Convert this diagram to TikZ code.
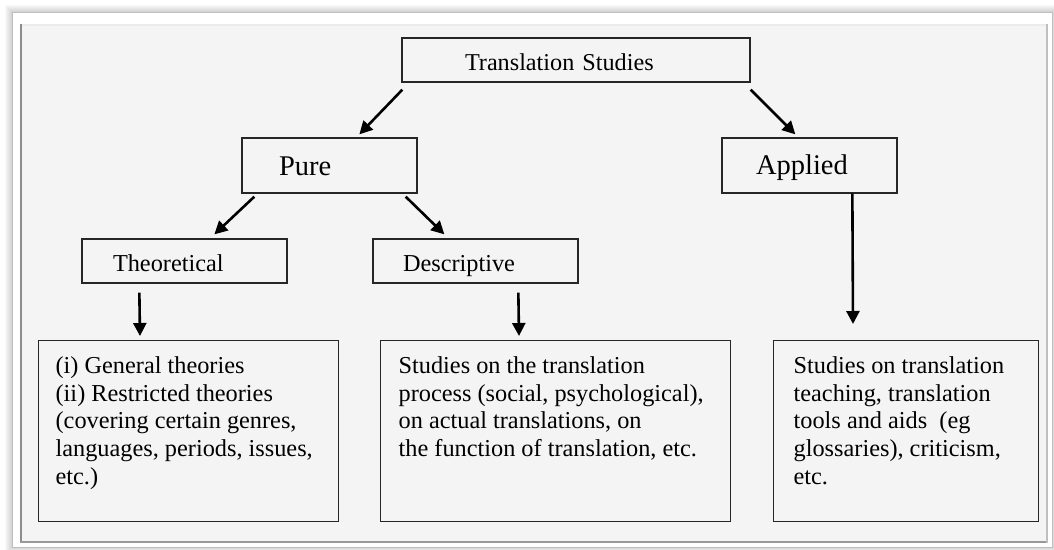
\documentclass[tikz,border=0pt]{standalone}
\usepackage{fontspec}
\setmainfont{Liberation Serif}
\usetikzlibrary{arrows.meta}
\definecolor{panel}{HTML}{F4F4F4}
\tikzset{
  box/.style={draw=black!85, line width=1.3pt, fill=panel},
  arr/.style={line width=2.6pt, -{Triangle[length=13pt,width=13pt]}},
  toptext/.style={font=\fontsize{24.2pt}{28pt}\selectfont},
  midtext/.style={font=\fontsize{28.5pt}{32pt}\selectfont},
  subtext/.style={font=\fontsize{24.3pt}{28pt}\selectfont},
  bodytext/.style={font=\fontsize{24.3pt}{27.7pt}\selectfont}
}
\begin{document}
\begin{tikzpicture}[x=1pt,y=-1pt]
\useasboundingbox (0,0) rectangle (1054,549);
\fill[white] (0,0) rectangle (1054,549);
% soft shadow around the frame
\foreach \d in {1,2,...,7}{
  \fill[black, opacity=0.025] (12-\d,12-\d) rectangle (1052+\d,547+\d);
}
\fill[white] (12,12) rectangle (1052,547);
\draw[black!25, line width=0.6pt] (12,12) rectangle (1052,547);
% panel
\fill[panel] (20,24) rectangle (1048,543);
\draw[black!45, line width=2pt] (21,24) -- (21,543);
\draw[black!40, line width=2pt] (20,542) -- (1048,542);
\draw[black!25, line width=1.5pt] (1047,24) -- (1047,543);
\draw[black!8, line width=2pt] (22,25) -- (1046,25);

% upper boxes
\node[box, toptext, minimum width=348pt, minimum height=44pt, inner xsep=63pt, inner ysep=0pt, text width=222pt, align=left, text height=26.4pt, text depth=5pt] (ts) at (576,60) {Translation Studies};
\node[box, midtext, minimum height=55pt, inner xsep=37pt, inner ysep=0pt, text width=101pt, align=left, text height=24pt, text depth=5pt] (pu) at (329.5,165.5) {Pure};
\node[box, midtext, minimum height=55pt, inner xsep=34pt, inner ysep=0pt, text width=107pt, align=left, text height=22pt, text depth=5pt] (ap) at (809.5,165.5) {Applied};
\node[box, subtext, minimum height=44pt, inner xsep=31pt, inner ysep=0pt, text width=143pt, align=left, text height=26.2pt, text depth=5pt] (th) at (184.5,261) {Theoretical};
\node[box, subtext, minimum height=44pt, inner xsep=30pt, inner ysep=0pt, text width=145pt, align=left, text height=26.2pt, text depth=5pt] (de) at (475.5,261) {Descriptive};

% lower boxes
\node[box, bodytext, anchor=north west, inner xsep=17pt, inner ysep=16pt] (lb) at (38,340)
  {\parbox[c][149pt][t]{266pt}{\raggedright (i) General theories\\(ii) Restricted theories\\(covering certain genres,\\languages, periods, issues,\\etc.)}};
\node[box, bodytext, anchor=north west, inner xsep=18pt, inner ysep=16pt] (mb) at (380,340)
  {\parbox[c][149pt][t]{314pt}{\raggedright Studies on the translation\\process (social, psychological),\\on actual translations, on\\the function of translation, etc.}};
\node[box, bodytext, anchor=north west, inner xsep=20pt, inner ysep=16pt] (rb) at (773,340)
  {\parbox[c][149pt][t]{225pt}{\raggedright Studies on translation\\teaching, translation\\tools and aids~ (eg\\glossaries), criticism,\\etc.}};

% connectors
\draw[arr] ([shift={(1,7)}]ts.south west) -- ([shift={(118,-3)}]pu.north west);
\draw[arr] ([shift={(0,7)}]ts.south east) -- ([shift={(74,-3)}]ap.north west);
\draw[arr] ([shift={(13,3)}]pu.south west) -- ([shift={(133,-4)}]th.north west);
\draw[arr] ([shift={(-12,3)}]pu.south east) -- ([shift={(72,-4)}]de.north west);
\draw[arr] ([shift={(58,9)}]th.south west) -- ([shift={(102,-4)}]lb.north west);
\draw[arr] ([shift={(146,9)}]de.south west) -- ([shift={(139,-4)}]mb.north west);
\draw[arr] ([shift={(131,0)}]ap.south west) -- ([shift={(80,-16)}]rb.north west);
\end{tikzpicture}
\end{document}
